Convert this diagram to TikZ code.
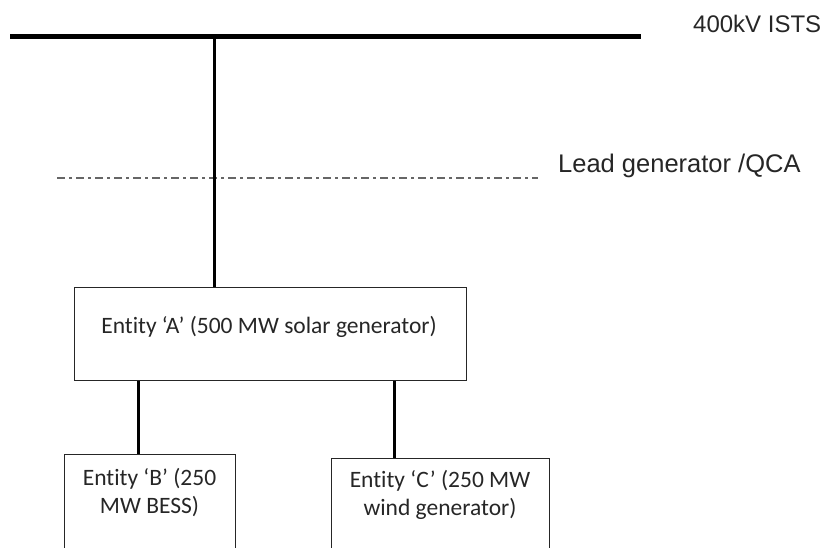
\documentclass[tikz,border=0pt]{standalone}
\usepackage{fontspec}
\setmainfont{Carlito}[Ligatures={NoCommon}]
\newfontfamily\labelfont{Liberation Sans}
\begin{document}
\begin{tikzpicture}[x=1pt,y=-1pt,
  box/.style={draw=black!85, line width=1.4pt, rectangle, inner sep=0pt, anchor=north west},
  boxtext/.style={font=\fontsize{23.5}{28}\selectfont, text=black!85, align=center, inner sep=0pt},
  lbl/.style={font=\labelfont\fontsize{24}{28}\selectfont, text=black!85, inner sep=0pt, anchor=base west},
  conn/.style={line width=3pt, black},
  bus/.style={line width=5pt, black},
  qca/.style={line width=1.6pt, black!60, dash pattern=on 8pt off 4pt on 3pt off 4pt}]
\useasboundingbox (0,0) rectangle (830,548);
% busbar
\coordinate (busL) at (10,37);
\coordinate (busR) at (641,37);
\coordinate (tap) at (214,37);
\draw[bus] (busL) -- (busR);
\node[lbl] (ists) at (693,33) {400kV ISTS};
% lead generator line
\coordinate (qL) at (57,178);
\coordinate (qR) at (538,178);
\draw[qca] (qL) -- (qR);
\node[lbl, font=\labelfont\fontsize{25.5}{28}\selectfont] (lead) at (558,173) {Lead generator /QCA};
% boxes
\node[box, minimum width=392pt, minimum height=93pt] (A) at (74,287) {};
\node[boxtext] (At) at (269,327) {Entity ‘A’ (500 MW solar generator)};
\node[box, minimum width=171pt, minimum height=130pt] (B) at (64,454) {};
\node[boxtext] (Bt) at (149.5,492.5) {Entity ‘B’ (250\\MW BESS)};
\node[box, minimum width=218pt, minimum height=130pt] (C) at (331,458) {};
\node[boxtext] (Ct) at (440,495) {Entity ‘C’ (250 MW\\wind generator)};
% connectors
\coordinate (bx) at (138,0);
\coordinate (cx) at (394,0);
\draw[conn] (tap) -- (tap |- A.north);
\draw[conn] (bx |- A.south) -- (bx |- B.north);
\draw[conn] (cx |- A.south) -- (cx |- C.north);
\end{tikzpicture}
\end{document}
